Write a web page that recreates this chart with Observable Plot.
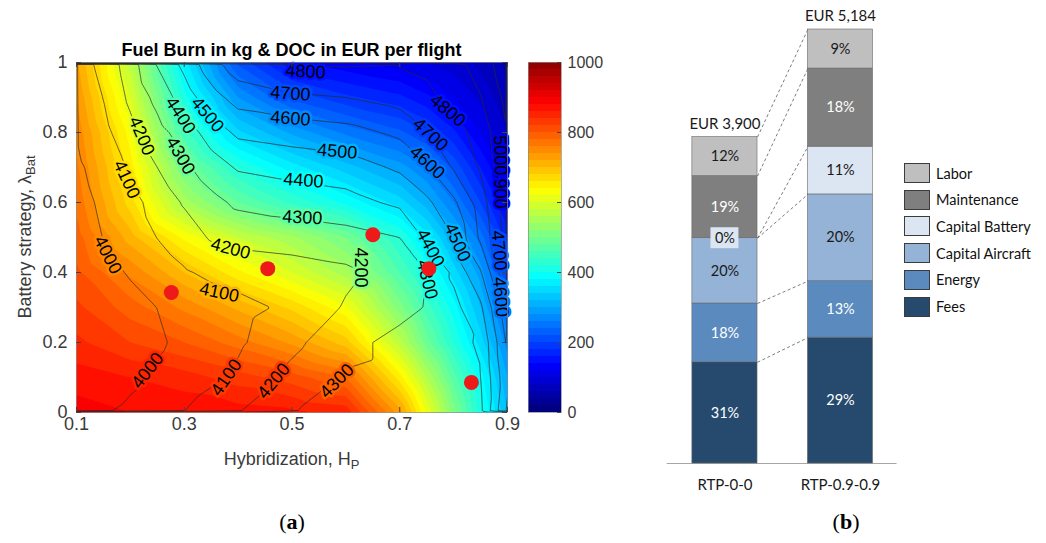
<!DOCTYPE html>
<html><head><meta charset="utf-8">
<script src="https://cdn.jsdelivr.net/npm/d3@7"></script>
<script src="https://cdn.jsdelivr.net/npm/@observablehq/plot@0.6"></script>
<style>
body{margin:0;background:#fff;}
#root{position:relative;width:1046px;height:543px;overflow:hidden;background:#fff;}
.abs{position:absolute;white-space:nowrap;}
.ax{font-family:"Liberation Sans",Arial,sans-serif;font-size:18px;line-height:18px;color:#3a3a3a;}
.ax sub{font-size:13px;vertical-align:-4px;line-height:0;}
.cap{font-family:"Liberation Serif","Times New Roman",serif;font-size:22px;line-height:22px;color:#000;transform:translate(-50%,-50%);}
.leg{font-family:Lato,"Open Sans",sans-serif;font-size:14.5px;color:#111;display:flex;align-items:center;}
.sw{width:26px;height:20px;box-sizing:border-box;border:1px solid #3c3c3c;margin-right:6px;}
</style></head><body>
<div id="root">
  <div id="left" class="abs" style="left:0;top:0"></div>
  <div id="cbar" class="abs" style="left:520px;top:0"></div>
  <div id="right" class="abs" style="left:660px;top:0"></div>
  <div class="abs" style="left:76px;width:431px;top:41px;text-align:center;font:bold 18px/18px 'Liberation Sans',Arial,sans-serif;color:#000">Fuel Burn in kg &amp; DOC in EUR per flight</div>
  <div class="abs ax" style="left:291.5px;top:450px;transform:translateX(-50%)">Hybridization, H<sub>P</sub></div>
  <div class="abs ax" style="left:25px;top:237px;transform:translate(-50%,-50%) rotate(-90deg)">Battery strategy, λ<sub>Bat</sub></div>
  <div class="abs cap" style="left:292px;top:522px">(<b>a</b>)</div>
  <div class="abs cap" style="left:846px;top:522px">(<b>b</b>)</div>
  <div id="legend"></div>
</div>
<script>
// ---------- Panel (a): fuel burn field (kg) on a grid ----------
const fuelX = [0.1, 0.2, 0.3, 0.4, 0.5, 0.6, 0.7, 0.75, 0.8, 0.85, 0.9];
const gridY = [0, 0.1, 0.2, 0.3, 0.4, 0.5, 0.6, 0.7, 0.8, 0.9, 1.0];
const fuelBurn = [
  [890, 880, 875, 870, 865, 855, 730, 620, 510, 410, 320],
  [870, 860, 850, 830, 810, 780, 650, 560, 470, 390, 300],
  [845, 820, 800, 770, 735, 690, 570, 490, 420, 350, 270],
  [825, 790, 755, 715, 675, 625, 510, 450, 390, 320, 240],
  [805, 755, 700, 645, 600, 550, 460, 410, 350, 290, 200],
  [790, 710, 635, 580, 545, 500, 420, 370, 310, 250, 170],
  [775, 670, 550, 480, 435, 395, 350, 310, 260, 200, 135],
  [765, 650, 500, 420, 370, 330, 290, 260, 215, 160, 105],
  [755, 630, 450, 345, 295, 255, 225, 200, 165, 120, 80],
  [740, 600, 410, 280, 215, 185, 165, 145, 120, 95, 65],
  [725, 570, 370, 215, 145, 125, 110, 100, 90, 75, 55]
];
// ---------- DOC field (EUR) on a grid ----------
const docX = [0.1, 0.15, 0.2, 0.25, 0.3, 0.35, 0.4, 0.5, 0.6, 0.7, 0.75, 0.8, 0.85, 0.9];
const docEUR = [
  [3910, 3990, 4030, 4070, 4102, 4150, 4197, 4298, 4320, 4325, 4330, 4345, 4380, 4720],
  [3880, 3915, 3970, 4020, 4045, 4080, 4120, 4230, 4310, 4330, 4340, 4360, 4395, 4680],
  [3890, 3920, 3950, 3985, 4025, 4050, 4085, 4175, 4270, 4330, 4350, 4375, 4410, 4720],
  [3905, 3935, 3965, 4001, 4030, 4050, 4070, 4120, 4210, 4270, 4305, 4370, 4480, 4780],
  [3925, 3965, 4010, 4050, 4090, 4120, 4140, 4155, 4180, 4240, 4300, 4420, 4590, 4900],
  [3950, 4002, 4045, 4102, 4150, 4210, 4230, 4245, 4265, 4300, 4420, 4500, 4720, 4950],
  [3970, 4015, 4065, 4140, 4210, 4270, 4320, 4345, 4365, 4420, 4480, 4580, 4750, 4960],
  [3985, 4035, 4115, 4200, 4280, 4355, 4410, 4435, 4455, 4515, 4590, 4710, 4810, 4990],
  [4003, 4070, 4170, 4265, 4345, 4445, 4520, 4545, 4565, 4620, 4690, 4760, 4840, 5000],
  [4030, 4102, 4222, 4330, 4450, 4560, 4640, 4685, 4700, 4740, 4775, 4830, 4895, 5030],
  [4055, 4128, 4255, 4410, 4530, 4665, 4765, 4812, 4815, 4808, 4825, 4865, 4950, 5060]
];
const docLevels = [4000, 4100, 4200, 4300, 4400, 4500, 4600, 4700, 4800, 4900, 5000];
// design points (red dots)
const designH = [0.276, 0.455, 0.65, 0.754, 0.833];
const designLambda = [0.343, 0.411, 0.508, 0.411, 0.086];
// contour label annotations (data coordinates, angle)
const labelText = ["4000","4000","4100","4100","4100","4200","4200","4200","4200","4300","4300","4300","4300","4400","4400","4400","4500","4500","4500","4600","4600","4600","4700","4700","4700","4800","4800","4900","5000"];
const labelH =    [0.158,0.232,0.193,0.365,0.378,0.221,0.386,0.627,0.466,0.293,0.519,0.751,0.583,0.293,0.521,0.757,0.343,0.584,0.807,0.497,0.751,0.887,0.497,0.757,0.884,0.525,0.789,0.887,0.887];
const labelL =    [0.450,0.120,0.666,0.343,0.100,0.790,0.468,0.414,0.090,0.734,0.557,0.380,0.090,0.849,0.663,0.470,0.851,0.746,0.486,0.840,0.714,0.330,0.911,0.794,0.463,0.974,0.863,0.640,0.735];
const labelAngle = [63,-52,65,12,-55,67,15,90,-50,60,3,76,-45,57,4,62,50,5,66,4,42,85,4,42,85,3,40,88,88];
const xTicks = [0.1, 0.3, 0.5, 0.7, 0.9];
const yTicks = [0, 0.2, 0.4, 0.6, 0.8, 1];
const colorTicks = [0, 200, 400, 600, 800, 1000];

// ---------- Panel (b): DOC breakdown ----------
const scenarios = ["RTP-0-0", "RTP-0.9-0.9"];
const totalsEUR = [3900, 5184];
const components = ["Fees", "Energy", "Capital Aircraft", "Capital Battery", "Maintenance", "Labor"];
const sharesRTP00 = [31, 18, 20, 0, 19, 12];
const sharesRTP0909 = [29, 13, 20, 11, 18, 9];
const componentColors = ["#264a6e", "#5a8abe", "#95b3d7", "#dce6f2", "#7f7f7f", "#bfbfbf"];
const whiteLabelComponents = ["Fees", "Energy", "Maintenance"];

// ---------- helpers ----------
const toRows = (xs, ys, grid) => ys.flatMap((y, j) => xs.map((x, i) => ({x, y, v: grid[j][i]})));
function bilinear(xs, ys, grid, x, y) {
  let i = Math.max(0, Math.min(xs.length - 2, d3.bisectRight(xs, x) - 1));
  let j = Math.max(0, Math.min(ys.length - 2, d3.bisectRight(ys, y) - 1));
  const tx = (x - xs[i]) / (xs[i + 1] - xs[i]), ty = (y - ys[j]) / (ys[j + 1] - ys[j]);
  return (1 - tx) * (1 - ty) * grid[j][i] + tx * (1 - ty) * grid[j][i + 1] + (1 - tx) * ty * grid[j + 1][i] + tx * ty * grid[j + 1][i + 1];
}
const jet = {type: "linear", domain: [0, 125, 375, 625, 875, 1000],
  range: ["#000080", "#0000ff", "#00ffff", "#ffff00", "#ff0000", "#800000"], interpolate: "rgb"};
const fillLevels = d3.range(0, 1000, 20);
const plain = d => String(d);

const fuelRows = toRows(fuelX, gridY, fuelBurn);
const docRows = toRows(docX, gridY, docEUR);
const design = designH.map((h, i) => ({h, l: designLambda[i]}));
const labels = labelText.map((t, i) => ({t, h: labelH[i], l: labelL[i], a: labelAngle[i],
  bg: Math.floor(bilinear(fuelX, gridY, fuelBurn, labelH[i], labelL[i]) / 20) * 20}));

const sansStyle = {fontFamily: "'Liberation Sans', Arial, sans-serif", fontSize: "18px", color: "#3a3a3a", background: "transparent", overflow: "visible"};

const left = Plot.plot({
  width: 520, height: 470,
  marginLeft: 76, marginRight: 13, marginTop: 62, marginBottom: 58,
  x: {domain: [0.1, 0.9]}, y: {domain: [0, 1]},
  color: jet,
  style: sansStyle,
  marks: [
    Plot.contour(fuelRows, {x: "x", y: "y", value: "v", interpolate: "barycentric", thresholds: fillLevels, fill: "value", stroke: "none"}),
    Plot.contour(docRows, {x: "x", y: "y", value: "v", interpolate: "barycentric", thresholds: docLevels,
      fill: "none", stroke: "#2a2a2a", strokeWidth: 0.7, x1: 0.02, x2: 0.98, y1: -0.1, y2: 1.1, clip: true}),
    Plot.text(labels, {x: "h", y: "l", text: "t", rotate: "a", fill: "#000", stroke: "bg", strokeWidth: 5,
      paintOrder: "stroke", strokeLinejoin: "round", fontSize: 18}),
    Plot.dot(design, {x: "h", y: "l", r: 7.5, fill: "#ee1a1a", stroke: "none"}),
    Plot.frame({stroke: "#8c8c8c", strokeWidth: 0.7}),
    Plot.tickX(xTicks, {insetTop: 345, stroke: "#444"}),
    Plot.tickX(xTicks, {insetBottom: 345, stroke: "#444"}),
    Plot.tickY(yTicks, {insetRight: 426, stroke: "#444"}),
    Plot.tickY(yTicks, {insetLeft: 426, stroke: "#444"}),
    Plot.axisX(xTicks, {tickSize: 0, tickPadding: 5, label: null, tickFormat: plain}),
    Plot.axisY(yTicks, {tickSize: 0, tickPadding: 9, label: null, tickFormat: plain})
  ]
});
document.getElementById("left").append(left);

const cbar = Plot.plot({
  width: 100, height: 470, marginLeft: 8, marginRight: 59, marginTop: 62, marginBottom: 58,
  x: {domain: [0, 1], axis: null}, y: {domain: [0, 1000]},
  color: jet,
  style: {...sansStyle, fontSize: "16px"},
  marks: [
    Plot.rect(fillLevels, {x1: 0, x2: 1, y1: d => d, y2: d => d + 20, fill: d => d, shapeRendering: "crispEdges"}),
    Plot.frame({stroke: "#8c8c8c", strokeWidth: 0.7}),
    Plot.tickY(colorTicks, {insetLeft: 29, stroke: "#444"}),
    Plot.axisY(colorTicks, {anchor: "right", tickSize: 0, tickPadding: 6, label: null, tickFormat: plain})
  ]
});
document.getElementById("cbar").append(cbar);

// ---------- Panel (b) ----------
const hw = 0.282;
const segs = [];
[sharesRTP00, sharesRTP0909].forEach((sh, i) => {
  let cum = 0;
  sh.forEach((s, j) => {
    const v = s / 100 * totalsEUR[i];
    segs.push({i, comp: components[j], share: s, y1: cum, y2: cum + v});
    cum += v;
  });
});
const segA = segs.filter(d => d.i === 0), segB = segs.filter(d => d.i === 1);
const links = segA.map((d, j) => ({x1: 0 + hw, x2: 1 - hw, y1: d.y2, y2: segB[j].y2}));
const zeroSegs = segs.filter(d => d.share === 0);
const totalsRows = totalsEUR.map((t, i) => ({i, t}));

const right = Plot.plot({
  width: 386, height: 543, marginLeft: 0, marginRight: 0, marginTop: 29, marginBottom: 80,
  x: {domain: [-0.558, 2.784], axis: null},
  y: {domain: [0, d3.max(totalsEUR)], axis: null},
  color: {domain: components, range: componentColors},
  style: {fontFamily: "Lato, 'Open Sans', sans-serif", fontSize: "14.5px", background: "transparent", overflow: "visible"},
  marks: [
    Plot.ruleY([0], {x1: -0.5, x2: 1.49, stroke: "#a6a6a6", strokeWidth: 1.2}),
    Plot.link(links, {x1: "x1", x2: "x2", y1: "y1", y2: "y2", stroke: "#595959", strokeWidth: 0.8, strokeDasharray: "3,2.5"}),
    Plot.rect(segs, {x1: d => d.i - hw, x2: d => d.i + hw, y1: "y1", y2: "y2", fill: "comp", stroke: "#6a6a6a", strokeWidth: 0.6}),
    Plot.rect(zeroSegs, {x1: d => d.i - 0.121, x2: d => d.i + 0.121, y1: d => d.y1 - 125, y2: d => d.y1 + 125, fill: "comp"}),
    Plot.text(segs, {x: "i", y: d => (d.y1 + d.y2) / 2, text: d => d.share + "%",
      fill: d => whiteLabelComponents.includes(d.comp) ? "#ffffff" : "#1a1a1a", fontSize: 14.5}),
    Plot.text(totalsRows, {x: "i", y: "t", dy: -13, text: d => "EUR " + d3.format(",")(d.t), fill: "#1a1a1a", fontSize: 15}),
    Plot.text(scenarios, {x: (d, i) => i, y: 0, dy: 22, text: d => d, fill: "#1a1a1a", fontSize: 15})
  ]
});
document.getElementById("right").append(right);

// legend (top to bottom: reverse stacking order)
const legend = document.getElementById("legend");
components.slice().reverse().forEach((c, k) => {
  const row = document.createElement("div");
  row.className = "abs leg";
  row.style.left = "904px";
  row.style.top = (163 + k * 26.7) + "px";
  row.style.height = "20px";
  const sw = document.createElement("div");
  sw.className = "sw";
  sw.style.background = componentColors[components.indexOf(c)];
  const tx = document.createElement("span");
  tx.textContent = c;
  row.append(sw, tx);
  legend.append(row);
});
</script>
</body></html>
